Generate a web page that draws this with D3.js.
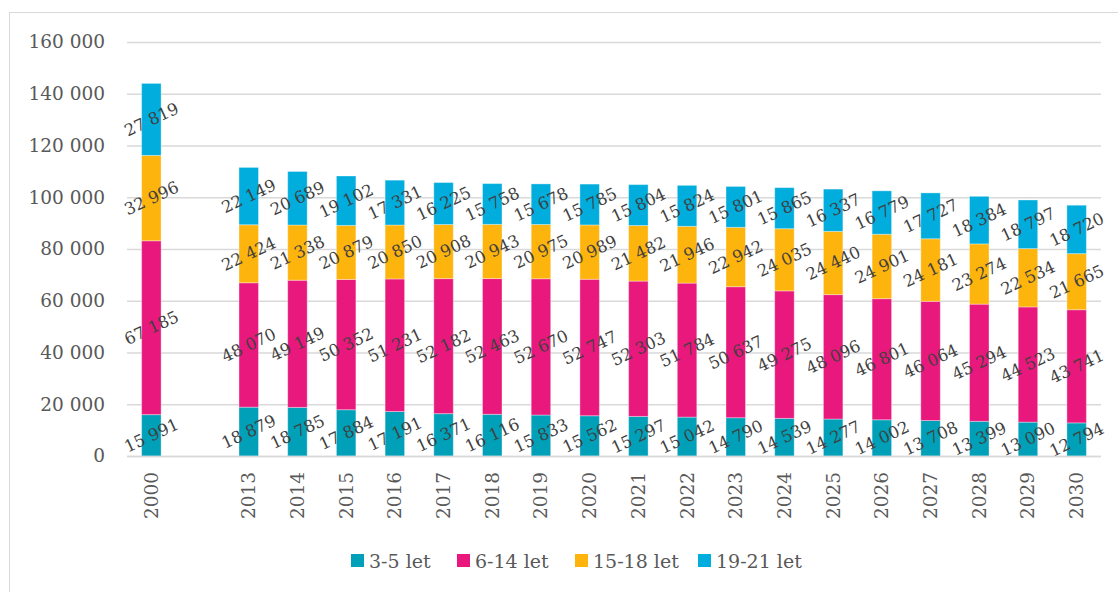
<!DOCTYPE html>
<html>
<head>
<meta charset="utf-8">
<script src="https://cdn.jsdelivr.net/npm/d3@7"></script>
<style>
  body { margin: 0; background: #fff; }
  svg text { font-family: "DejaVu Serif", serif; }
</style>
</head>
<body>
<svg id="chart" width="1118" height="592"></svg>
<script>
const years = ['2000', '2013', '2014', '2015', '2016', '2017', '2018', '2019', '2020', '2021',
    '2022', '2023', '2024', '2025', '2026', '2027', '2028', '2029', '2030'];
const age3to5 = [15991, 18879, 18785, 17884, 17191, 16371, 16116, 15833, 15562, 15297,
    15042, 14790, 14539, 14277, 14002, 13708, 13399, 13090, 12794];
const age6to14 = [67185, 48070, 49149, 50352, 51231, 52182, 52463, 52670, 52747, 52303,
    51784, 50637, 49275, 48096, 46801, 46064, 45294, 44523, 43741];
const age15to18 = [32996, 22424, 21338, 20879, 20850, 20908, 20943, 20975, 20989, 21482,
    21946, 22942, 24035, 24440, 24901, 24181, 23274, 22534, 21665];
const age19to21 = [27819, 22149, 20689, 19102, 17331, 16225, 15758, 15678, 15785, 15804,
    15824, 15801, 15865, 16337, 16779, 17727, 18384, 18797, 18720];
const seriesNames = ['3-5 let', '6-14 let', '15-18 let', '19-21 let'];
const yTicks = [0, 20000, 40000, 60000, 80000, 100000, 120000, 140000, 160000];

const colors = {
    '3-5 let': '#00A0B8',
    '6-14 let': '#E8187D',
    '15-18 let': '#FDB40D',
    '19-21 let': '#00ADDC'
};

const svg = d3.select('#chart');
const margin = { left: 127, right: 17, top: 42, bottom: 136 };
const width = 1118 - margin.left - margin.right;
const height = 592 - margin.top - margin.bottom;

// chart frame
svg.append('rect')
    .attr('x', 9.5).attr('y', 12.5)
    .attr('width', 1130).attr('height', 600)
    .attr('fill', 'none')
    .attr('stroke', '#d9d9d9');

// one empty slot between 2000 and 2013
const slots = [years[0], 'gap', ...years.slice(1)];

const x = d3.scaleBand().domain(slots).range([0, width]).paddingInner(0.6).paddingOuter(0.3);
const y = d3.scaleLinear().domain([0, 160000]).range([height, 0]);

const g = svg.append('g').attr('transform', `translate(${margin.left},${margin.top})`);

const fmt = v => d3.format(',')(v).replace(/,/g, ' ');

g.append('g')
    .selectAll('line')
    .data(yTicks)
    .join('line')
    .attr('x1', 0).attr('x2', width)
    .attr('y1', d => y(d) + 0.5).attr('y2', d => y(d) + 0.5)
    .attr('stroke', '#d9d9d9')
    .attr('stroke-width', 1.5);

const yAxis = g.append('g')
    .call(d3.axisLeft(y).tickValues(yTicks).tickFormat(fmt).tickSize(0).tickPadding(22));
yAxis.select('.domain').remove();
yAxis.selectAll('text')
    .attr('fill', '#595959')
    .style('font-size', '18.5px')
    .style('font-family', '"DejaVu Serif", serif');

const rows = years.map((yr, i) => ({
    year: yr,
    '3-5 let': age3to5[i],
    '6-14 let': age6to14[i],
    '15-18 let': age15to18[i],
    '19-21 let': age19to21[i]
}));
const stacked = d3.stack().keys(seriesNames)(rows);

const layers = g.selectAll('g.layer')
    .data(stacked)
    .join('g')
    .attr('class', 'layer')
    .attr('fill', d => colors[d.key]);

layers.selectAll('rect')
    .data(d => d)
    .join('rect')
    .attr('x', d => x(d.data.year))
    .attr('width', x.bandwidth())
    .attr('y', d => y(d[1]))
    .attr('height', d => y(d[0]) - y(d[1]))
    .attr('stroke', 'rgba(255,255,255,0.35)')
    .attr('stroke-width', 1);

// baseline
g.append('line')
    .attr('x1', 0).attr('x2', width)
    .attr('y1', height + 0.5).attr('y2', height + 0.5)
    .attr('stroke', '#d9d9d9')
    .attr('stroke-width', 1.5);

// data labels, rotated
layers.selectAll('text')
    .data(d => d)
    .join('text')
    .attr('transform', d => `translate(${x(d.data.year) + x.bandwidth() / 2},${y((d[0] + d[1]) / 2)}) rotate(-25)`)
    .attr('text-anchor', 'middle')
    .attr('dy', '0.35em')
    .attr('fill', '#404040')
    .style('font-size', '16.5px')
    .text(d => fmt(d[1] - d[0]));

// x axis labels
const xAxis = g.append('g')
    .attr('transform', `translate(0,${height})`)
    .call(d3.axisBottom(x).tickValues(years).tickSize(0).tickPadding(0));
xAxis.select('.domain').remove();
xAxis.selectAll('text')
    .attr('transform', 'rotate(-90)')
    .attr('text-anchor', 'end')
    .attr('x', -16)
    .attr('y', 0)
    .attr('dy', '0.35em')
    .attr('fill', '#595959')
    .style('font-size', '18.5px')
    .style('font-family', '"DejaVu Serif", serif');

// legend
const legendItems = [
    { name: '3-5 let', x: 351 },
    { name: '6-14 let', x: 457 },
    { name: '15-18 let', x: 575 },
    { name: '19-21 let', x: 698 }
];
const legend = svg.append('g');
const item = legend.selectAll('g')
    .data(legendItems)
    .join('g')
    .attr('transform', d => `translate(${d.x},554)`);
item.append('rect')
    .attr('width', 13).attr('height', 13)
    .attr('fill', d => colors[d.name]);
item.append('text')
    .attr('x', 18)
    .attr('y', 7)
    .attr('dy', '0.35em')
    .attr('fill', '#595959')
    .style('font-size', '19px')
    .text(d => d.name);
</script>
</body>
</html>
